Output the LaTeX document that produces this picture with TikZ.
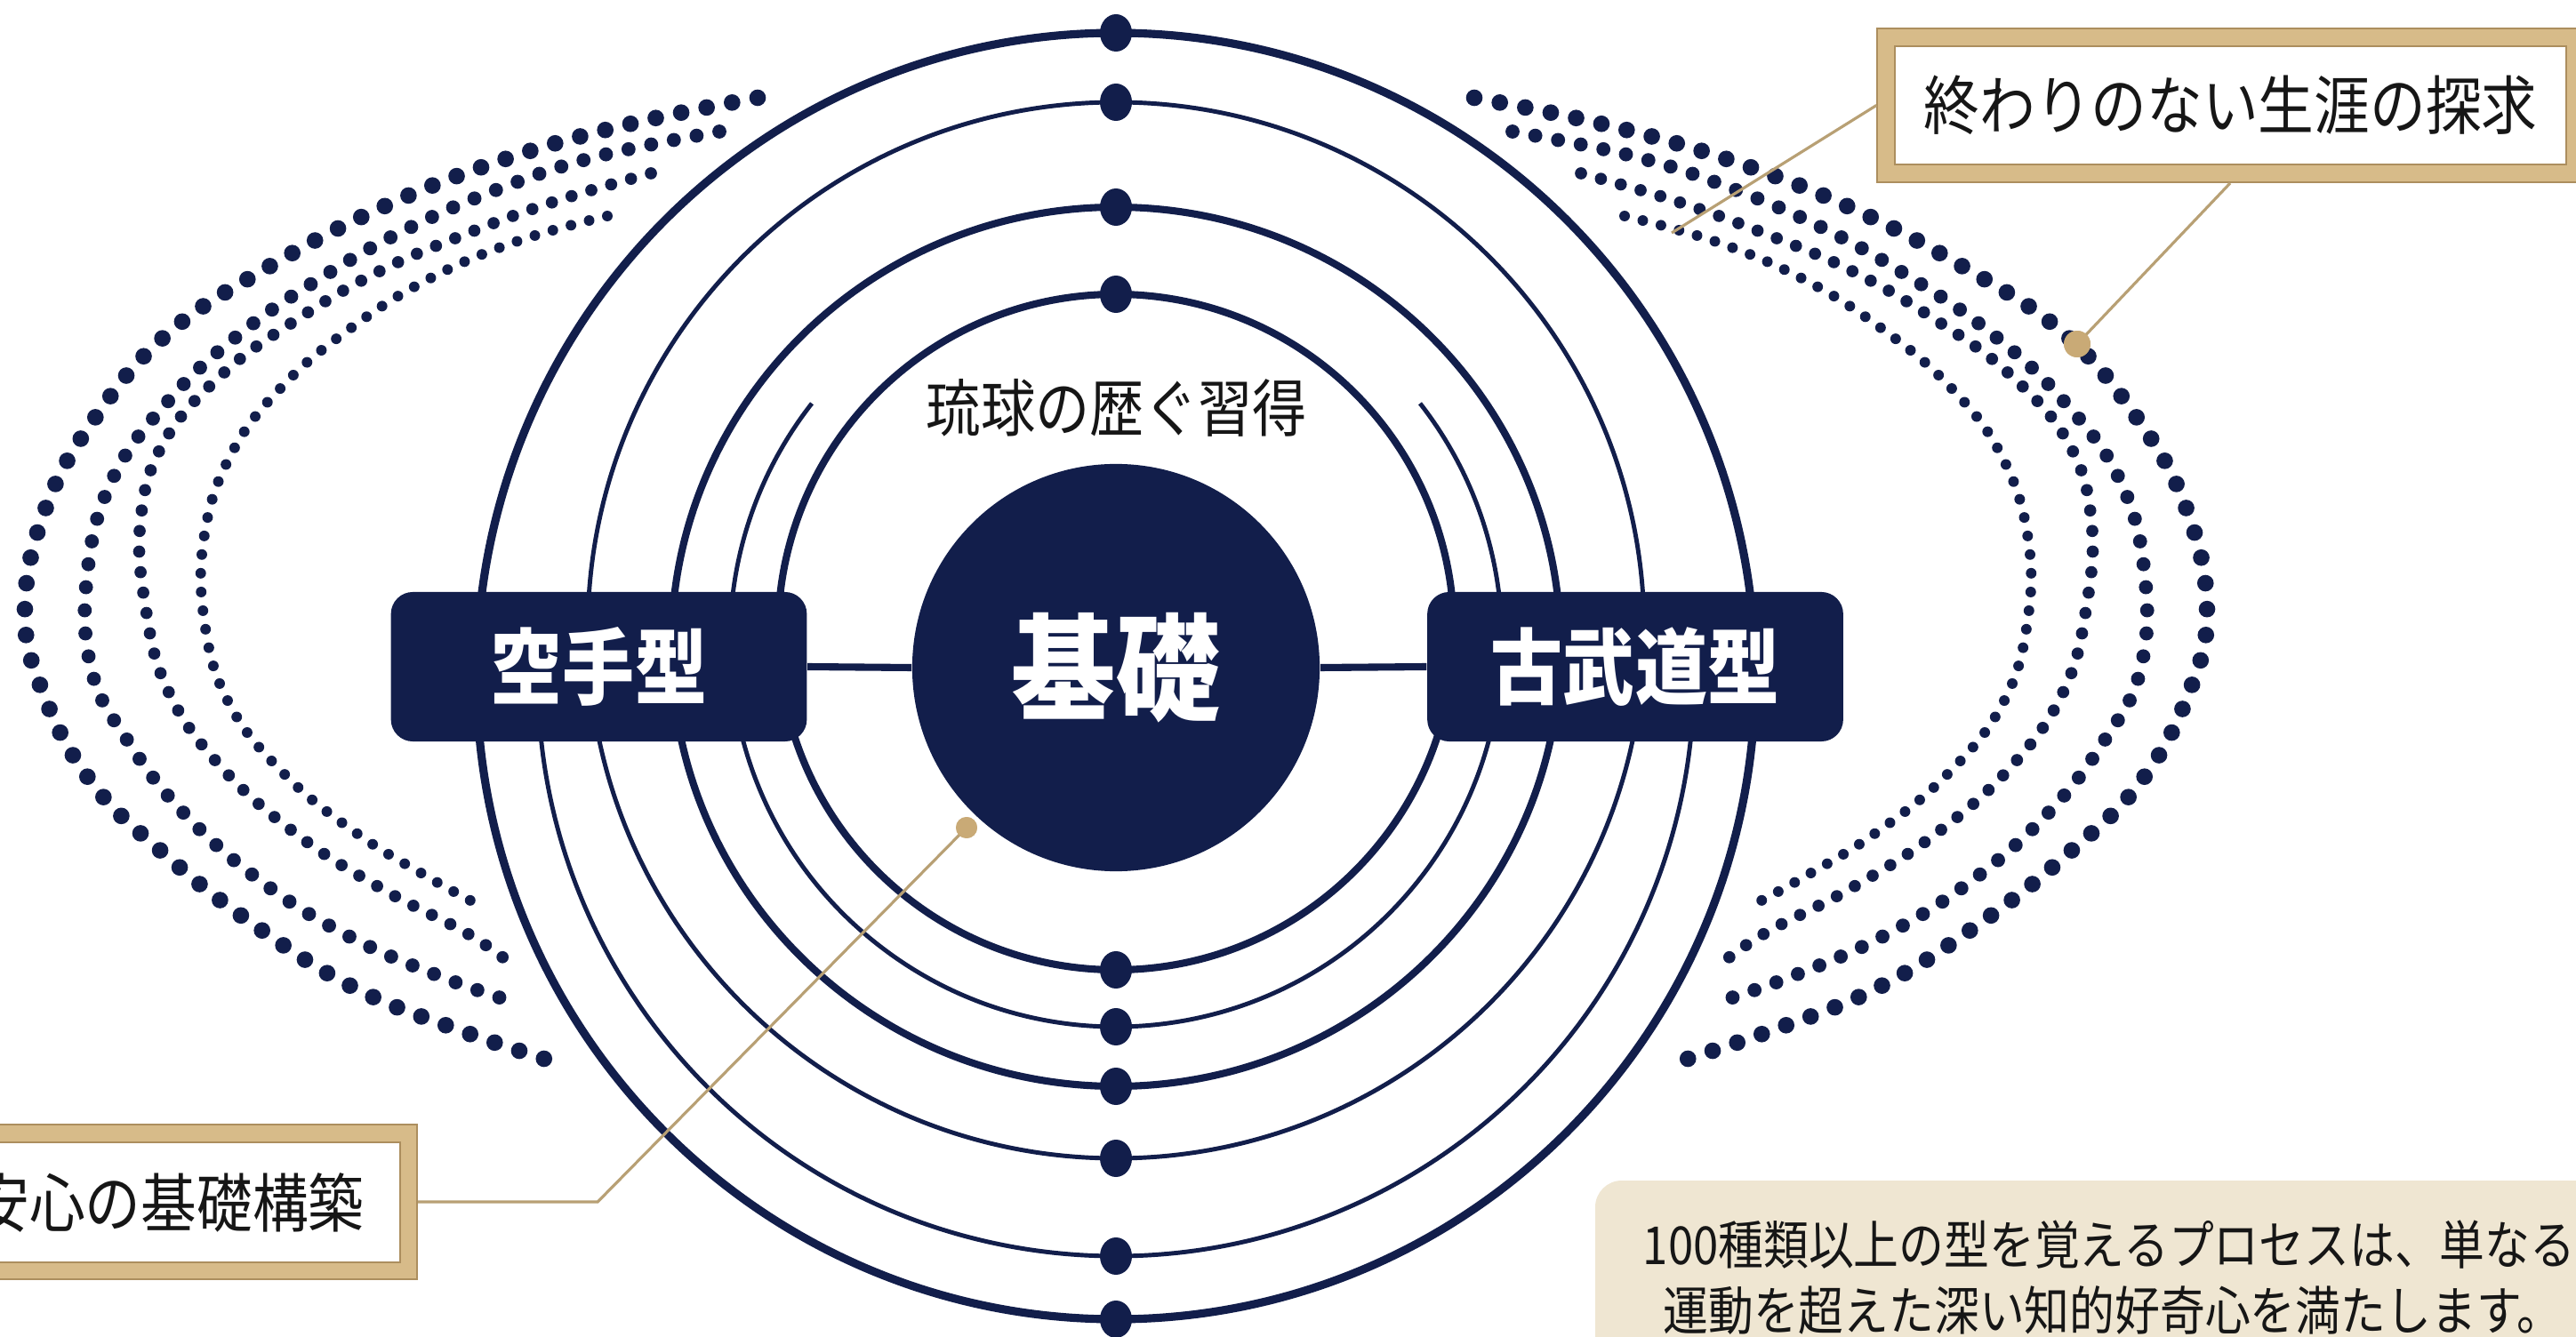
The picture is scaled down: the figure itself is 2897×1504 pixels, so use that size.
\documentclass[tikz,border=0pt]{standalone}
\usepackage{fontspec}
\setmainfont{Noto Sans CJK JP}
\usetikzlibrary{calc}
\definecolor{navy}{RGB}{18,30,75}
\definecolor{gold}{RGB}{201,170,118}
\definecolor{leadc}{RGB}{184,160,116}
\definecolor{tanfill}{RGB}{215,187,137}
\definecolor{tandark}{RGB}{172,142,94}
\definecolor{beigefill}{RGB}{239,230,210}
\definecolor{inkc}{RGB}{22,22,22}
\newcommand{\cnd}[2][0.87]{\scalebox{#1}[1]{#2}}
\newcommand{\dotarcs}{%
\draw[dotsA] plot[smooth, tension=0.7] coordinates {(852,110) (706,140) (565,180) (428,234) (299,302) (189,375) (109,467) (52,570) (28,685) (49,781) (103,880) (184,960) (281,1037) (396,1110) (517,1159) (634,1198)};
\draw[dotsB] plot[smooth, tension=0.7] coordinates {(809,148) (672,176) (565,211) (459,257) (365,310) (273,373) (192,448) (126,540) (98,647) (103,754) (144,834) (207,915) (293,991) (390,1052) (494,1098) (583,1129)};
\draw[dotsC] plot[smooth, tension=0.7] coordinates {(732,195) (626,226) (522,264) (425,306) (333,360) (250,421) (184,498) (158,586) (164,685) (189,777) (247,861) (333,938) (428,999) (522,1048) (568,1079)};
\draw[dotsD] plot[smooth, tension=0.7] coordinates {(683,243) (580,272) (482,314) (396,368) (319,433) (261,509) (230,601) (230,700) (258,792) (321,872) (402,938) (482,987) (531,1014)};
}
\tikzset{
  ringthick/.style={draw=navy, line width=2.3pt},
  ringouter/.style={draw=navy, line width=2.6pt},
  ringthin/.style={draw=navy, line width=1.4pt},
  dotsA/.style={draw=navy, line width=5.3pt, line cap=round, dash pattern=on 0pt off 8.3pt},
  dotsB/.style={draw=navy, line width=4.5pt, line cap=round, dash pattern=on 0pt off 7.4pt},
  dotsC/.style={draw=navy, line width=3.9pt, line cap=round, dash pattern=on 0pt off 6.6pt},
  dotsD/.style={draw=navy, line width=3.4pt, line cap=round, dash pattern=on 0pt off 6pt},
  typebox/.style={fill=navy, rounded corners=7pt, minimum width=133pt, minimum height=47.8pt, inner sep=0pt, text=white, font=\bfseries\fontsize{26.5}{30}\selectfont},
  hub/.style={circle, fill=navy, minimum size=130.3pt, inner sep=0pt, text=white, font=\bfseries\fontsize{37}{40}\selectfont},
  conn/.style={draw=navy, line width=2.3pt},
  leader/.style={draw=leadc, line width=0.9pt},
  golddot/.style={circle, fill=gold, inner sep=0pt, minimum size=#1},
  frameouter/.style={fill=tanfill, draw=tandark, line width=0.6pt, inner sep=0pt},
  frameinner/.style={fill=white, draw=tandark, line width=0.6pt, inner sep=0pt, text=inkc, font=\fontsize{20.5}{24}\selectfont},
  paratext/.style={text=inkc, inner sep=0pt, font=\fontsize{16.8}{20}\selectfont},
  toplabel/.style={text=inkc, inner sep=0pt, font=\fontsize{20}{24}\selectfont},
}
\begin{document}
\begin{tikzpicture}[x=0.01cm, y=-0.01cm]
\useasboundingbox (0,0) rectangle (2897,1504);
\clip (0,0) rectangle (2897,1504);
\fill[white] (0,0) rectangle (2897,1504);

% dotted side arcs
\dotarcs
\begin{scope}[shift={(2510,0)}, xscale=-1]
\dotarcs
\end{scope}

% rings
\draw[ringouter] (1255,760.5) ellipse [x radius=719, y radius=723.5];
\draw[ringthin] (1255,709) circle [radius=594];
\draw[ringthick] (1255,727.5) ellipse [x radius=500, y radius=494.5];
\draw[ringthin] ([shift={(1255,721)}]218:434) arc [start angle=218, end angle=-38, radius=434];
\draw[ringthin] ([shift={(1255,763)}]185:650) arc [start angle=185, end angle=-5, radius=650];
\draw[ringthick] (1255,711) circle [radius=380];

% ring dots
\foreach \yy in {37,115,233,331,1091,1155,1222,1303,1413,1484}
  \fill[navy] (1255,\yy) ellipse [x radius=18, y radius=21];

% centre and type boxes
\node[hub] (kiso) at (1255,751) {\cnd[0.9]{基礎}};
\node[typebox] (karate) at (673.5,750) {\cnd{空手型}};
\node[typebox] (kobudo) at (1839,750) {\cnd{古武道型}};
\draw[conn] (karate.east) -- (kiso.west);
\draw[conn] (kiso.east) -- (kobudo.west);

\node[toplabel] (ryukyu) at (1256,459) {\cnd{琉球の歴ぐ習得}};

% framed labels
\node[frameouter, minimum width=225.6pt, minimum height=49.2pt] (endframe) at (2508,118.5) {};
\node[frameinner, minimum width=214.8pt, minimum height=37.8pt] (endless) at (2508.5,118.5) {\cnd{終わりのない生涯の探求}};
\node[frameouter, minimum width=159pt, minimum height=49.5pt] (safeframe) at (189.5,1352) {};
\node[frameinner, minimum width=147.9pt, minimum height=38.4pt] (safe) at (190,1352.5) {\cnd{安心の基礎構築}};

% leaders and gold dots
\node[golddot=6.8pt] (g1) at (1087,931) {};
\node[golddot=8.5pt] (g2) at (2336,387) {};
\coordinate (lend) at (1880,262);
\draw[leader] (safeframe.east) -- ++(202,0) -- (g1.center);
\draw[leader] (endframe.south) -- (g2.center);
\draw[leader] (endframe.west) -- (lend);
\node[golddot=6.8pt] at (g1) {};
\node[golddot=8.5pt] at (g2) {};

% note box
\fill[beigefill, rounded corners=8.5pt] (1794,1328) rectangle (2980,1580);
\node[paratext, anchor=base] (line1) at (2372,1422) {\cnd[0.86]{100種類以上の型を覚えるプロセスは、単なる}};
\node[paratext, anchor=base] (line2) at (2376,1496) {\cnd[0.86]{運動を超えた深い知的好奇心を満たします。}};
\end{tikzpicture}
\end{document}
